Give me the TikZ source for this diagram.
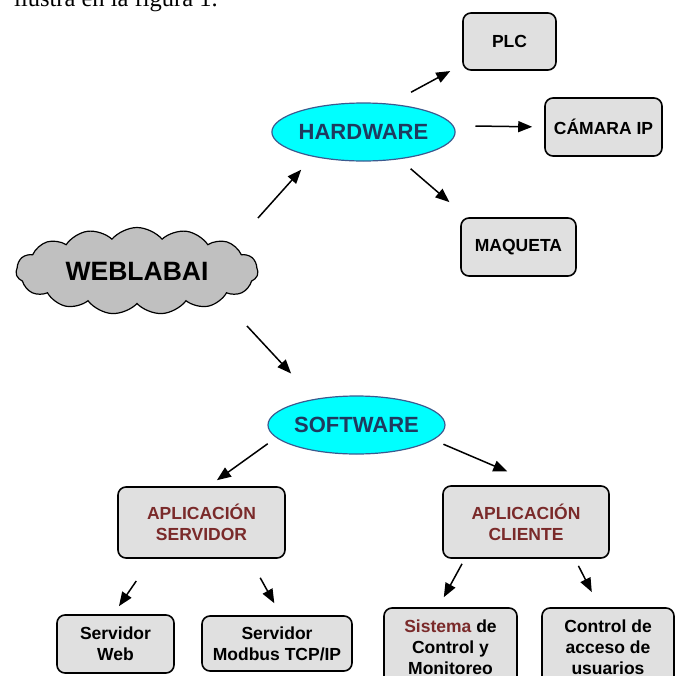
\documentclass[tikz,border=0pt]{standalone}
\usepackage{fontspec}
\setmainfont{Liberation Serif}
\setsansfont{Liberation Sans}
\usetikzlibrary{shapes.geometric,shapes.symbols,arrows.meta}
\definecolor{grisclaro}{HTML}{E0E0E0}
\definecolor{grisnube}{HTML}{C0C0C0}
\definecolor{cian}{HTML}{00FFFF}
\definecolor{bordeazul}{HTML}{3B5A8F}
\definecolor{azuloscuro}{HTML}{1F3A5F}
\definecolor{marron}{HTML}{7A2A2A}
\begin{document}
\begin{tikzpicture}[x=1pt,y=-1pt,
        caja/.style={draw=black, line width=1.6pt, fill=grisclaro, rounded corners=8pt,
            align=center, inner sep=2pt, font=\sffamily\bfseries\fontsize{17.5}{21}\selectfont},
        elipse/.style={ellipse, draw=bordeazul, line width=1.2pt, fill=cian, text=azuloscuro,
            minimum width=177pt, minimum height=58pt, inner sep=0pt,
            font=\sffamily\bfseries\fontsize{22}{26}\selectfont},
        flecha/.style={line width=1.5pt, -{Triangle[length=14pt,width=11pt]}}]
                \clip (0,0) rectangle (680,675);
                \node[anchor=base west, inner sep=0pt, font=\fontsize{24.5}{29}\selectfont] (texto) at (14,6.5) {ilustra en la figura 1.};
                % nube principal
                \node[cloud, cloud puffs=15, cloud puff arc=100, cloud ignores aspect, draw=black, line width=1.2pt, fill=grisnube,
                    minimum width=242pt, minimum height=87pt, inner sep=0pt,
                    font=\sffamily\bfseries\fontsize{26.5}{30}\selectfont] (weblab) at (137,271) {WEBLABAI};
                % hardware
                \node[elipse] (hw) at (363.5,132) {HARDWARE};
                \node[caja, minimum width=93pt, minimum height=57pt] (plc) at (509.5,41.5) {PLC};
                \node[caja, minimum width=117pt, minimum height=58pt] (cam) at (603.5,127) {CÁMARA IP};
                \node[caja, minimum width=115pt, minimum height=58pt] (maq) at (518.5,247) {MAQUETA};
                % software
                \node[elipse] (sw) at (356.5,425) {SOFTWARE};
                \node[caja, text=marron, minimum width=167pt, minimum height=71pt] (as) at (201.5,522.5) {APLICACIÓN\\SERVIDOR};
                \node[caja, text=marron, minimum width=166pt, minimum height=72pt] (ac) at (526,522) {APLICACIÓN\\CLIENTE};
                \node[caja, minimum width=117pt, minimum height=58pt] (srvweb) at (115.5,644) {Servidor\\Web};
                \node[caja, minimum width=150pt, minimum height=55pt] (mod) at (277,643.5) {Servidor\\Modbus TCP/IP};
                \node[caja, minimum width=133pt, minimum height=78pt] (sis) at (450.5,647) {{\color{marron}Sistema} de\\Control y\\Monitoreo};
                \node[caja, minimum width=132pt, minimum height=78pt] (ctl) at (608,647) {Control de\\acceso de\\usuarios};
                % flechas
                \draw[flecha, shorten >=17.4pt] ([xshift=121pt,yshift=53pt]weblab.center) -- (hw.206);
                \draw[flecha, shorten >=34.6pt] ([xshift=110pt,yshift=-55pt]weblab.center) -- (sw.148);
                \draw[flecha, shorten <=24pt, shorten >=13.6pt] (hw.47) -- (plc.206);
                \draw[flecha, shorten <=21.9pt, shorten >=12pt] (hw.4) -- (cam.west);
                \draw[flecha, shorten <=14.5pt, shorten >=23.1pt] (hw.323) -- (maq.150);
                \draw[flecha, shorten <=10.3pt, shorten >=10.3pt] (sw.189) -- (as.79);
                \draw[flecha, shorten <=10.9pt, shorten >=34.9pt] (sw.349) -- (ac.70);
                \draw[flecha, shorten <=26.9pt, shorten >=9.8pt] (as.216) -- (srvweb.94);
                \draw[flecha, shorten <=21.7pt, shorten >=13.7pt] (as.323) -- (mod.82);
                \draw[flecha, shorten <=5.7pt, shorten >=11.4pt] (ac.211) -- (sis.107);
                \draw[flecha, shorten <=7.9pt, shorten >=17pt] (ac.323) -- (ctl.102);
            \end{tikzpicture}
\end{document}
